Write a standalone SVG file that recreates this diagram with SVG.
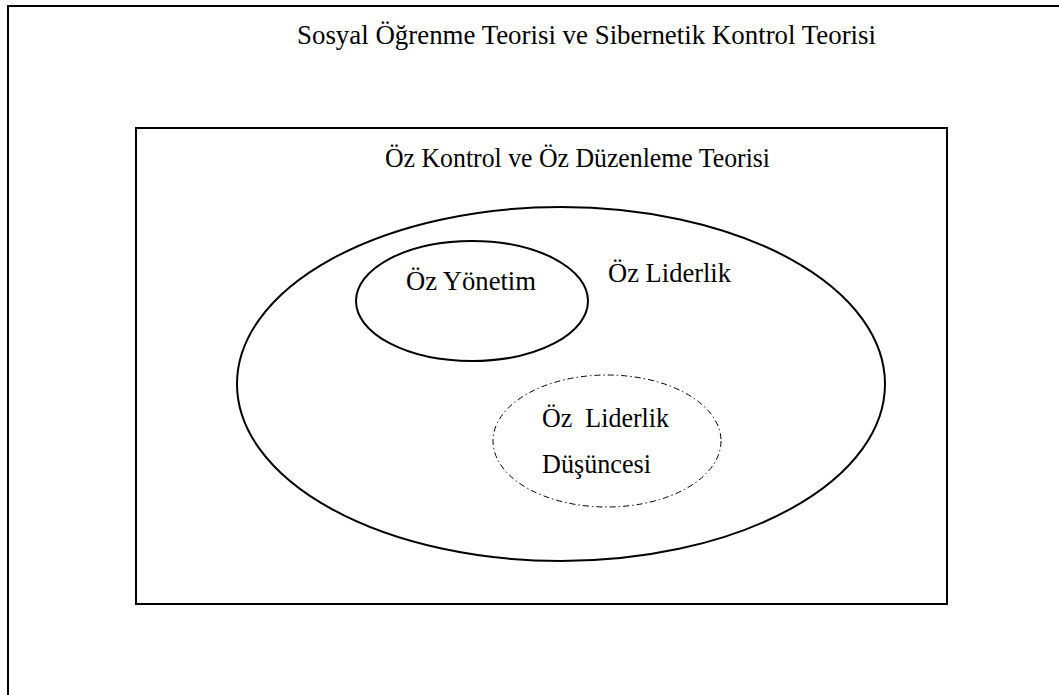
<svg xmlns="http://www.w3.org/2000/svg" width="1059" height="695" viewBox="0 0 1059 695">
<style>
.t{font-family:"Liberation Serif","Times New Roman",serif;font-size:26.5px;fill:#000}
.s{fill:none;stroke:#000;stroke-width:2}
</style>
<rect width="1059" height="695" fill="#fff"/>
<g id="frame">
<path class="s" d="M8 695 V6 H1059" stroke-width="2.5"/>
<text class="t" x="297" y="44" textLength="579" lengthAdjust="spacingAndGlyphs">Sosyal Öğrenme Teorisi ve Sibernetik Kontrol Teorisi</text>
</g>
<g id="oz-kontrol">
<rect class="s" x="136" y="128" width="811" height="476"/>
<text class="t" x="385" y="167" textLength="385" lengthAdjust="spacingAndGlyphs">Öz Kontrol ve Öz Düzenleme Teorisi</text>
</g>
<g id="oz-liderlik">
<ellipse class="s" cx="561" cy="384" rx="324" ry="177"/>
<text class="t" x="608" y="282" textLength="123" lengthAdjust="spacingAndGlyphs">Öz Liderlik</text>
</g>
<g id="oz-yonetim">
<ellipse class="s" cx="472" cy="301" rx="116" ry="60"/>
<text class="t" x="406" y="290" textLength="130" lengthAdjust="spacingAndGlyphs">Öz Yönetim</text>
</g>
<g id="oz-liderlik-dusuncesi">
<ellipse cx="607" cy="441" rx="114" ry="66" fill="none" stroke="#000" stroke-width="1" stroke-dasharray="6 3 1.5 3"/>
<text class="t" x="542" y="427" xml:space="preserve" textLength="127" lengthAdjust="spacingAndGlyphs">Öz  Liderlik</text>
<text class="t" x="542" y="473" textLength="109" lengthAdjust="spacingAndGlyphs">Düşüncesi</text>
</g>
<g id="connectors"/>
</svg>
